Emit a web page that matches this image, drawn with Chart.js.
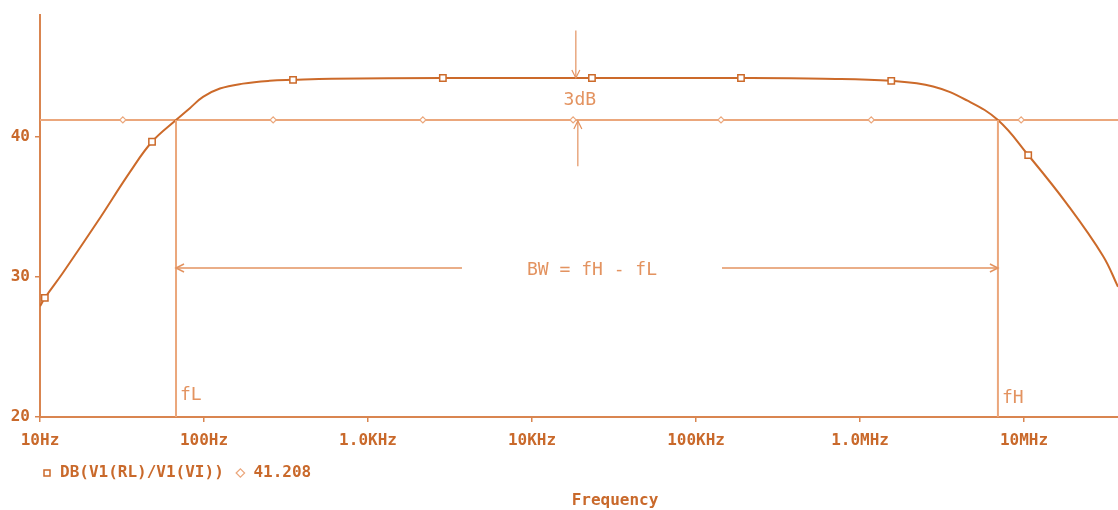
<!DOCTYPE html>
<html>
<head>
<meta charset="utf-8">
<script src="https://cdn.jsdelivr.net/npm/chart.js@4/dist/chart.umd.min.js"></script>
<style>
  body { margin: 0; background: #fff; }
  canvas { display: block; }
</style>
</head>
<body>
<canvas id="bodeChart" width="1118" height="510"></canvas>
<script>
// gain curve
const freqHz = [10, 10.7, 13.8, 22.3, 35.4, 48.2, 67.5, 82, 98.6, 125, 173, 251, 349, 600, 2860, 23200, 188000, 600000, 1.55e6, 2.79e6, 4.49e6, 6.93e6, 1.06e7, 1.83e7, 3.03e7, 3.74e7];
const gainDb = [27.9, 28.5, 30.3, 33.9, 37.5, 39.65, 41.2, 42.05, 42.85, 43.45, 43.8, 44.0, 44.07, 44.15, 44.2, 44.2, 44.2, 44.15, 44.0, 43.6, 42.6, 41.2, 38.7, 35.2, 31.5, 29.3];
const curveMarkerHz = [10.7, 48.2, 349, 2860, 23200, 188000, 1.55e6, 1.06e7];

// -3dB reference line
const refDb = 41.208;
const refLineHz = [10, 32, 264, 2160, 17800, 142000, 1.17e6, 9.6e6, 3.74e7];
const refMarkerHz = [32, 264, 2160, 17800, 142000, 1.17e6, 9.6e6];

// axes
const tickHz = [10, 100, 1e3, 1e4, 1e5, 1e6, 1e7];
const tickLabels = ['10Hz', '100Hz', '1.0KHz', '10KHz', '100KHz', '1.0MHz', '10MHz'];
const yTicks = [20, 30, 40];

// annotation anchors
const fLHz = 67.5;
const fHHz = 6.93e6;
const midDb = 44.2;
const bwArrowDb = 30.64;
const bwGapHz = [3740, 144000];
const bwLabelHz = 23200;
const dbArrowHz = 18500;

const curveColor = '#cc6a2a';
const refColor = '#eba77c';
const axisColor = '#d98550';
const textColor = '#c9692b';
const noteColor = '#e39360';
const monoFont = '"DejaVu Sans Mono", "Liberation Mono", monospace';

function arrowHead(ctx, tx, ty, dx, dy) {
    const len = 8, half = 4;
    const bx = tx - dx * len, by = ty - dy * len;
    ctx.beginPath();
    ctx.moveTo(bx - dy * half, by + dx * half);
    ctx.lineTo(tx, ty);
    ctx.lineTo(bx + dy * half, by - dx * half);
    ctx.stroke();
}

function segment(ctx, x1, y1, x2, y2) {
    ctx.beginPath();
    ctx.moveTo(x1, y1);
    ctx.lineTo(x2, y2);
    ctx.stroke();
}

const guidePlugin = {
    id: 'guides',
    afterDatasetsDraw(chart) {
        const {ctx} = chart;
        const x = chart.scales.x, y = chart.scales.y;
        const yRef = y.getPixelForValue(refDb);
        const yBase = y.getPixelForValue(20);
        const xL = x.getPixelForValue(fLHz);
        const xH = x.getPixelForValue(fHHz);
        ctx.save();

        // fL / fH drop lines
        ctx.strokeStyle = refColor;
        ctx.lineWidth = 2;
        segment(ctx, xL, yRef, xL, yBase);
        segment(ctx, xH, yRef, xH, yBase);

        // bandwidth arrows
        const yBw = y.getPixelForValue(bwArrowDb);
        ctx.strokeStyle = noteColor;
        ctx.lineWidth = 1.5;
        segment(ctx, xL, yBw, x.getPixelForValue(bwGapHz[0]), yBw);
        segment(ctx, x.getPixelForValue(bwGapHz[1]), yBw, xH, yBw);
        arrowHead(ctx, xL, yBw, -1, 0);
        arrowHead(ctx, xH, yBw, 1, 0);

        // 3dB arrows
        const xd = x.getPixelForValue(dbArrowHz);
        ctx.lineWidth = 1.2;
        segment(ctx, xd, y.getPixelForValue(47.6), xd, y.getPixelForValue(midDb));
        arrowHead(ctx, xd, y.getPixelForValue(midDb), 0, 1);
        segment(ctx, xd + 2, y.getPixelForValue(37.9), xd + 2, yRef + 1);
        arrowHead(ctx, xd + 2, yRef + 1, 0, -1);

        // labels
        ctx.fillStyle = noteColor;
        ctx.font = '18px ' + monoFont;
        ctx.textBaseline = 'middle';
        ctx.textAlign = 'center';
        ctx.fillText('3dB', xd + 4, y.getPixelForValue(42.64));
        ctx.fillText('BW = fH - fL', x.getPixelForValue(bwLabelHz), yBw + 2);
        ctx.textAlign = 'left';
        ctx.fillText('fL', xL + 4, yBase - 22);
        ctx.fillText('fH', xH + 4, yBase - 19);
        ctx.restore();
    },
    afterDraw(chart) {
        // x axis name sits below the legend, a bit right of centre
        const {ctx, chartArea} = chart;
        ctx.save();
        ctx.fillStyle = textColor;
        ctx.font = 'bold 16px ' + monoFont;
        ctx.textAlign = 'center';
        ctx.textBaseline = 'middle';
        ctx.fillText('Frequency', (chartArea.left + chartArea.right) / 2 + 36, chart.height - 9);
        ctx.restore();
    }
};

const chartElement = document.getElementById('bodeChart');

new Chart(chartElement, {
    type: 'line',
    data: {
        datasets: [{
            label: 'DB(V1(RL)/V1(VI)) ',
            data: freqHz.map((f, i) => ({x: f, y: gainDb[i]})),
            borderColor: curveColor,
            borderWidth: 2,
            backgroundColor: '#fff',
            pointStyle: 'rect',
            pointRadius: freqHz.map(f => curveMarkerHz.includes(f) ? 4.5 : 0),
            pointBorderWidth: 1.5,
            pointBackgroundColor: '#fff',
            pointBorderColor: curveColor,
            tension: 0.4
        }, {
            label: refDb.toFixed(3),
            data: refLineHz.map(f => ({x: f, y: refDb})),
            borderColor: refColor,
            borderWidth: 2,
            backgroundColor: '#fff',
            pointStyle: 'rectRot',
            pointRadius: refLineHz.map(f => refMarkerHz.includes(f) ? 3 : 0),
            pointBorderWidth: 1.2,
            pointBackgroundColor: '#fff',
            pointBorderColor: refColor
        }]
    },
    options: {
        responsive: false,
        animation: false,
        devicePixelRatio: 1,
        layout: {
            padding: {top: 15, left: 0, right: 0, bottom: 19}
        },
        scales: {
            x: {
                type: 'logarithmic',
                min: 10,
                max: 3.74e7,
                afterBuildTicks: scale => { scale.ticks = tickHz.map(v => ({value: v})); },
                afterFit: scale => { scale.height = 46; },
                ticks: {
                    callback: v => tickLabels[tickHz.indexOf(v)],
                    color: textColor,
                    font: {family: monoFont, size: 16, weight: 'bold'},
                    maxRotation: 0,
                    autoSkip: false,
                    padding: 9
                },
                grid: {drawOnChartArea: false, color: axisColor, tickLength: 5, lineWidth: 1.5},
                border: {color: axisColor, width: 2}
            },
            y: {
                min: 20,
                max: 48.7,
                afterBuildTicks: scale => { scale.ticks = yTicks.map(v => ({value: v})); },
                afterFit: scale => { scale.width = 40; },
                ticks: {
                    color: textColor,
                    font: {family: monoFont, size: 16, weight: 'bold'},
                    padding: 5
                },
                grid: {drawOnChartArea: false, color: axisColor, tickLength: 5, lineWidth: 1.5},
                border: {color: axisColor, width: 2}
            }
        },
        plugins: {
            legend: {
                position: 'bottom',
                align: 'start',
                fullSize: false,
                labels: {
                    usePointStyle: true,
                    boxWidth: 10,
                    boxHeight: 6,
                    padding: 2,
                    color: textColor,
                    font: {family: monoFont, size: 16, weight: 'bold'}
                }
            },
            title: {display: false},
            tooltip: {enabled: false}
        }
    },
    plugins: [guidePlugin]
});
</script>
</body>
</html>
